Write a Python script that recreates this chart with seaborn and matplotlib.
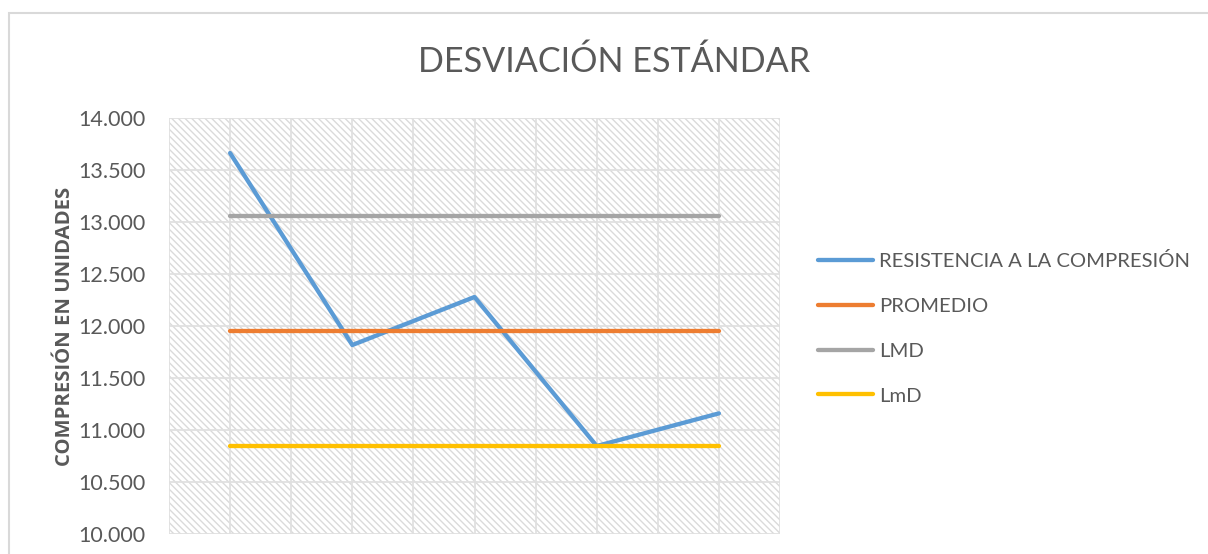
import matplotlib
matplotlib.use("Agg")
import matplotlib.pyplot as plt
from matplotlib.patches import Rectangle
import seaborn as sns
import pandas as pd

# Datos de ensayo (cinco probetas)
probetas = [1, 2, 3, 4, 5]
resistencia = [13.663, 11.817, 12.279, 10.846, 11.160]
promedio = [11.953] * 5
lmd = [13.059] * 5
lmd_min = [10.847] * 5

series = ["RESISTENCIA A LA COMPRESIÓN", "PROMEDIO", "LMD", "LmD"]
valores = [resistencia, promedio, lmd, lmd_min]
colores = ["#5B9BD5", "#ED7D31", "#A5A5A5", "#FFC000"]

yticks = [10.0, 10.5, 11.0, 11.5, 12.0, 12.5, 13.0, 13.5, 14.0]

sns.set_style("white")
plt.rcParams["font.family"] = ["Lato", "DejaVu Sans"]
plt.rcParams["hatch.linewidth"] = 1.0

texto = "#595959"

fig = plt.figure(figsize=(12.08, 5.54), dpi=100)
ax = fig.add_axes([169 / 1208, 1 - 534 / 554, 611 / 1208, 416 / 554])

# fondo rayado del área de trazado
ax.add_patch(Rectangle((0, 0), 1, 1, transform=ax.transAxes, facecolor="white",
                       edgecolor="#dadada", hatch="\\" * 5, lw=0, zorder=0))

idx = list(range(len(probetas)))
for nombre, vals, col in zip(series, valores, colores):
    df = pd.DataFrame({"x": idx, "y": vals})
    sns.lineplot(data=df, x="x", y="y", ax=ax, color=col, linewidth=3.1,
                 label=nombre, solid_capstyle="round", zorder=3)

ax.set_xlim(-0.5, len(probetas) - 0.5)
ax.set_ylim(yticks[0], yticks[-1])
ax.set_yticks(yticks)
ax.set_yticklabels([f"{v:.3f}" for v in yticks])
ax.set_xticks([i * 0.5 - 0.5 for i in range(2 * len(probetas) + 1)])
ax.set_xticklabels([])
ax.grid(True, color="#e0e0e0", linewidth=1.3, zorder=1)
ax.set_axisbelow(True)
for s in ax.spines.values():
    s.set_visible(False)
ax.tick_params(axis="both", length=0, labelsize=15.5, labelcolor=texto, pad=17)
ax.set_xlabel("")
ax.set_ylabel("COMPRESIÓN EN UNIDADES", fontsize=14.6, fontweight="bold",
              family=["Open Sans", "DejaVu Sans"], color=texto, labelpad=2)

fig.text(614 / 1208, 1 - 62 / 554, "DESVIACIÓN ESTÁNDAR", ha="center",
         va="center", fontsize=24.6, color=texto)

leg = ax.legend(loc="upper left", bbox_to_anchor=(800 / 1208, 1 - 234 / 554),
                bbox_transform=fig.transFigure, frameon=False, fontsize=14.6,
                handlelength=2.7, handletextpad=0.3, labelspacing=1.36)
for t in leg.get_texts():
    t.set_color(texto)

# marco del gráfico
fig.patches.append(Rectangle((9 / 1208, -0.2), 1.5, 1.2 - 13 / 554,
                             transform=fig.transFigure, fill=False,
                             edgecolor="#d9d9d9", lw=1.5))

fig.savefig("out.png", dpi=100)
